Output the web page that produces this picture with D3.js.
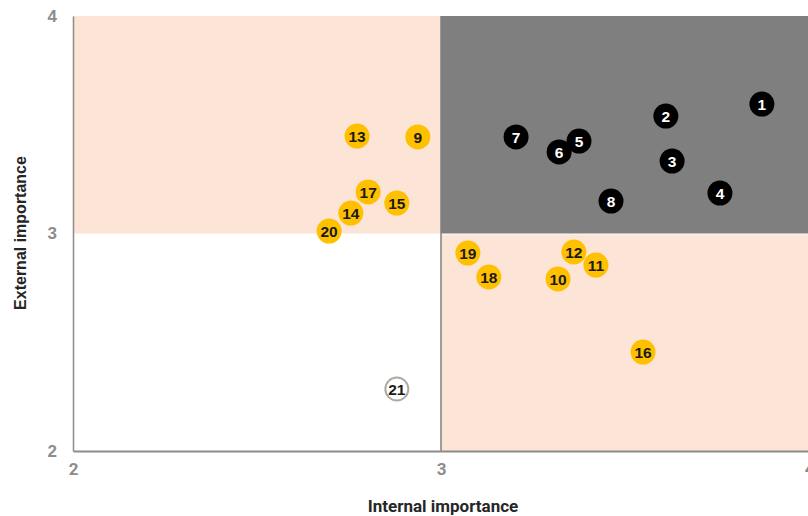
<!DOCTYPE html>
<html><head><meta charset="utf-8">
<script src="https://cdn.jsdelivr.net/npm/d3@7"></script>
<style>body{margin:0;background:#fff}svg{display:block}</style>
</head><body><svg id="c" width="808" height="516"></svg>
<script>
const ids =      [1,2,3,4,5,6,7,8,9,10,11,12,13,14,15,16,17,18,19,20,21];
const internal = [3.872,3.611,3.628,3.758,3.375,3.321,3.204,3.462,2.937,3.318,3.421,3.361,2.772,2.755,2.880,3.549,2.802,3.130,3.073,2.696,2.880];
const external = [3.595,3.540,3.333,3.186,3.425,3.375,3.444,3.149,3.444,2.791,2.855,2.915,3.448,3.094,3.140,2.455,3.191,2.800,2.910,3.011,2.285];
const groups =   ["core","core","core","core","core","core","core","core","mixed","mixed","mixed","mixed","mixed","mixed","mixed","mixed","mixed","mixed","mixed","mixed","low"];
const xTicks = [2,3,4];
const yTicks = [2,3,4];

const svg = d3.select("#c");
const x = d3.scaleLinear().domain([2,4]).range([73,809]);
const y = d3.scaleLinear().domain([2,4]).range([451,16]);
const peach = "#FCE4D6", gray = "#7F7F7F";

svg.append("rect").attr("x",x(2)).attr("y",y(4)).attr("width",x(3)-x(2)).attr("height",y(3)-y(4)).attr("fill",peach);
svg.append("rect").attr("x",x(3)).attr("y",y(3)+1).attr("width",x(4)-x(3)).attr("height",y(2)-y(3)-1).attr("fill",peach);
svg.append("rect").attr("x",x(3)).attr("y",y(4)).attr("width",x(4)-x(3)).attr("height",y(3)-y(4)).attr("fill",gray);
svg.append("line").attr("x1",x(3)).attr("x2",x(3)).attr("y1",y(4)).attr("y2",y(2)).attr("stroke","#808080").attr("stroke-width",1.5);

const xa = svg.append("g").attr("transform",`translate(0,${y(2)})`)
  .call(d3.axisBottom(x).tickValues(xTicks).tickFormat(d3.format("d")).tickSize(0).tickPadding(12));
xa.select(".domain").attr("stroke","#8c8c8c").attr("stroke-width",2);
xa.selectAll("text").attr("fill","#8c8c8c").attr("font-size",17).attr("font-family","'Roboto',sans-serif").attr("font-weight","bold");
const ya = svg.append("g").attr("transform",`translate(${x(2)},0)`)
  .call(d3.axisLeft(y).tickValues(yTicks).tickFormat(d3.format("d")).tickSize(0).tickPadding(16));
ya.select(".domain").attr("stroke","#8c8c8c").attr("stroke-width",1.5);
ya.selectAll("text").attr("fill","#8c8c8c").attr("font-size",17).attr("font-family","'Liberation Sans','Arial',sans-serif").attr("font-weight","bold");

svg.append("text").attr("x",443).attr("y",512).attr("text-anchor","middle")
  .attr("font-family","'Roboto',sans-serif").attr("font-weight","bold").attr("font-size",17).attr("fill","#262626").text("Internal importance");
svg.append("text").attr("transform","translate(26,233) rotate(-90)").attr("text-anchor","middle")
  .attr("font-family","'Liberation Sans','Arial',sans-serif").attr("font-weight","bold").attr("font-size",16).attr("fill","#262626").text("External importance");

const fill = {core:"#000000",mixed:"#FFC000",low:"#FFFFFF"};
const stroke = {core:"#000000",mixed:"#FFC000",low:"#AEAAA0"};
const tcol = {core:"#FFFFFF",mixed:"#1a1a1a",low:"#1a1a1a"};
const pts = svg.append("g").selectAll("g").data(ids).join("g")
  .attr("transform",(d,i)=>`translate(${x(internal[i])},${y(external[i])})`);
pts.append("circle").attr("r",(d,i)=>groups[i]==="low"?11.5:12.5)
  .attr("fill",(d,i)=>fill[groups[i]]).attr("stroke",(d,i)=>stroke[groups[i]]).attr("stroke-width",(d,i)=>groups[i]==="low"?2:0);
pts.append("text").attr("text-anchor","middle").attr("dy","0.36em")
  .attr("font-family","'Liberation Sans','Arial',sans-serif").attr("font-weight","bold").attr("font-size",15.5)
  .attr("fill",(d,i)=>tcol[groups[i]]).text(d=>d);
</script></body></html>
